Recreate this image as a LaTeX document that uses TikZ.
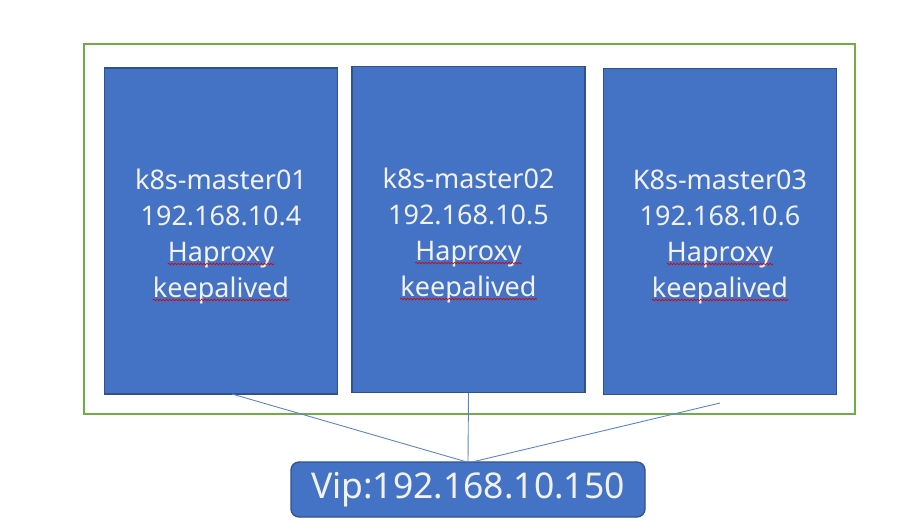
\documentclass[tikz,border=0pt]{standalone}
\usepackage{fontspec}
\setmainfont{Noto Sans}
\usetikzlibrary{decorations.pathmorphing,calc}
\definecolor{boxfill}{HTML}{4472C4}
\definecolor{boxdraw}{HTML}{2F528F}
\definecolor{frame}{HTML}{70AD47}
\definecolor{wire}{HTML}{5B84D0}
\definecolor{txtc}{HTML}{F2F2F2}
\tikzset{
  master/.style={draw=boxdraw, line width=1.3pt, fill=boxfill, minimum width=233pt, minimum height=326pt, inner sep=0pt},
  line/.style={txtc, font=\fontsize{27}{31}\selectfont, inner sep=0pt, anchor=base},
  vipbox/.style={draw=boxdraw, line width=1.3pt, fill=boxfill, rounded corners=8pt, minimum width=354pt, minimum height=55pt, inner sep=0pt, text=txtc, font=\fontsize{35.5}{40}\selectfont},
  wavy/.style={draw=red!85!black, line width=0.6pt, decorate, decoration={snake, amplitude=0.9pt, segment length=3.2pt}},
  conn/.style={draw=wire, line width=0.9pt}
}
\begin{document}
\begin{tikzpicture}[x=1pt,y=-1pt]
\useasboundingbox (0,0) rectangle (915,528);
\node[draw=frame, line width=2pt, minimum width=771pt, minimum height=370pt, inner sep=0pt] (frame) at (469.5,229) {};
\node[master] (m1) at (221,231) {};
\node[master] (m2) at (468.5,229.5) {};
\node[master] (m3) at (720,231.5) {};
\node[vipbox] (vip) at (468,489.5) {Vip:192.168.10.150};
% box 1 text
\node[line] (a1) at (221,189) {k8s-master01};
\node[line] (a2) at (221,225) {192.168.10.4};
\node[line] (a3) at (221,261) {Haproxy};
\node[line] (a4) at (221,297) {keepalived};
% box 2 text
\node[line] (b1) at (468.5,188) {k8s-master02};
\node[line] (b2) at (468.5,224) {192.168.10.5};
\node[line] (b3) at (468.5,260) {Haproxy};
\node[line] (b4) at (468.5,296) {keepalived};
% box 3 text
\node[line] (c1) at (720,189) {K8s-master03};
\node[line] (c2) at (720,225) {192.168.10.6};
\node[line] (c3) at (720,261) {Haproxy};
\node[line] (c4) at (720,297) {keepalived};
% spell-check underlines
\foreach \n in {a3,a4,b3,b4,c3,c4}{
  \draw[wavy] ($(\n.base west)+(0,3)$) -- ($(\n.base east)+(0,3)$);
}
% connectors
\coordinate (s1) at (232,394);
\coordinate (s3) at (720,403);
\coordinate (t1) at (467,462);
\coordinate (t3) at (472,462);
\draw[conn] (s1) -- (t1);
\draw[conn] (m2.south) -- (vip.north);
\draw[conn] (s3) -- (t3);
\end{tikzpicture}
\end{document}
